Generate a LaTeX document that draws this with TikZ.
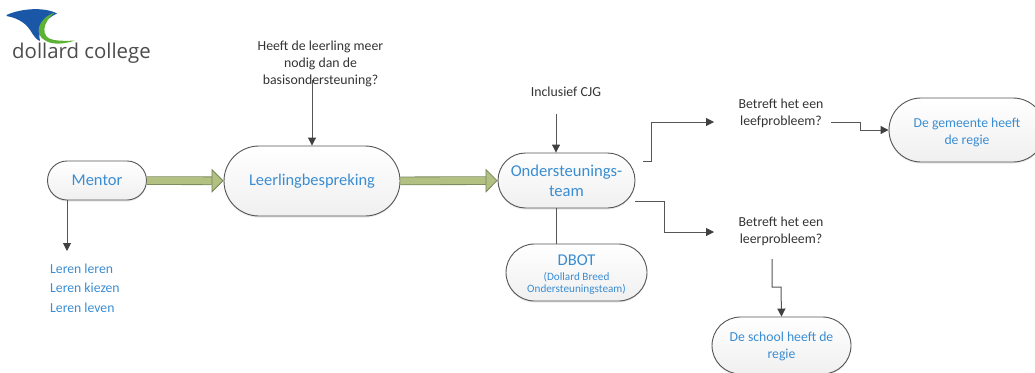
\documentclass[tikz,border=0pt]{standalone}
\usepackage{fontspec}
\setmainfont{Carlito}
\usetikzlibrary{arrows.meta,shapes.misc,shadows}
\definecolor{blauw}{HTML}{3A8DD2}
\definecolor{tekst}{HTML}{333333}
\definecolor{lijn}{HTML}{555555}
\definecolor{groen}{HTML}{B2C182}
\definecolor{randgroen}{HTML}{76855A}
\definecolor{logoblauw}{HTML}{1A57A6}
\definecolor{logogroen}{HTML}{5DB135}
\tikzset{
    pil/.style={rounded rectangle, draw=lijn, line width=.9pt, top color=white, bottom color=black!6,
        drop shadow={shadow xshift=0pt, shadow yshift=-1.5pt, opacity=.18}, align=center, text=blauw, inner sep=0pt},
    vraag/.style={text=tekst, align=center, font=\fontsize{13.8}{17}\selectfont, inner sep=0pt},
    flow/.style={draw=lijn, line width=1pt, -{Triangle[length=8pt,width=8pt,color=black!75]}},
    lijntje/.style={draw=lijn, line width=1pt},
    dik/.style={draw=randgroen, double=groen, double distance=7pt, line width=.8pt,
        -{Triangle[length=12pt,width=24pt,fill=groen]}},
}
\begin{document}
\begin{tikzpicture}[x=1pt,y=-1pt]
    \useasboundingbox (0,0) rectangle (1035,372);

    %% logo
    \fill[logoblauw] (6.5,15) .. controls (22,8) and (45,7) .. (57,13.5)
        .. controls (45,19) and (37,30) .. (40,41)
        .. controls (33,38) and (32,31) .. (27,26) .. controls (21,20) and (13,17) .. (6.5,16) -- cycle;
    \fill[logogroen] (55,12.5) .. controls (42,22) and (40,38) .. (54,40)
        .. controls (60,41) and (68,41) .. (75,40.5) .. controls (65,44) and (53,45) .. (46,41)
        .. controls (33,35) and (38,18) .. (55,12.5) -- cycle;
    \node[text=black!70, inner sep=0pt] (logo) at (81.5,53) {\fontspec{Open Sans}\fontsize{20.4}{22}\selectfont dollard college};

    %% nodes
    \node[pil, minimum width=99pt, minimum height=39pt, font=\fontsize{16.5}{17}\selectfont] (mentor) at (97,180.5) {Mentor};
    \node[pil, minimum width=176pt, minimum height=70pt, font=\fontsize{16.4}{17}\selectfont] (leerling) at (312,181) {Leerlingbespreking};
    \node[pil, minimum width=137pt, minimum height=55pt, font=\fontsize{16.6}{20}\selectfont] (onder) at (566.5,180.5) {Ondersteunings-\\team};
    \node[pil, minimum width=141pt, minimum height=57pt] (dbot) at (576.5,272.5) {\rule{0pt}{14pt}\fontsize{16.5}{16}\selectfont DBOT\\[3pt]\fontsize{11.2}{14}\selectfont (Dollard Breed\\\fontsize{11.2}{14}\selectfont Ondersteuningsteam)};
    \node[pil, minimum width=156pt, minimum height=64pt, font=\fontsize{13.7}{17}\selectfont] (gemeente) at (967,130) {\rule{0pt}{15pt}De gemeente heeft\\de regie};
    \node[pil, minimum width=139pt, minimum height=57pt, font=\fontsize{13.7}{17}\selectfont] (school) at (781.5,345.5) {\rule{0pt}{11pt}De school heeft de\\regie};

    %% tekst
    \node[vraag] (meer) at (320.5,64) {Heeft de leerling meer\\nodig dan de\\basisondersteuning?};
    \node[vraag] (cjg) at (566,92) {Inclusief CJG};
    \node[vraag] (leef) at (781,113) {Betreft het een\\leefprobleem?};
    \node[vraag] (leer) at (781,231) {Betreft het een\\leerprobleem?};
    \node[anchor=north west, text=blauw, align=left, inner sep=0pt, font=\fontsize{13.7}{19.6}\selectfont] (leren) at (50,263.5) {Leren leren\\Leren kiezen\\Leren leven};

    %% vrije uiteinden
    \coordinate (meerend) at (312,80);
    \coordinate (cjgend) at (556,114);
    \coordinate (mentorend) at (67,251);
    \coordinate (leefstart) at (643,161);
    \coordinate (leefend) at (714,122);
    \coordinate (leerstart) at (635,201);
    \coordinate (leerend) at (714,232);
    \coordinate (leefuit) at (831,122);
    \coordinate (leeruit) at (772,259);

    %% dikke pijlen
    \draw[dik] (mentor) -- (leerling);
    \draw[dik] (leerling) -- (onder);

    %% lijnen
    \draw[flow] (meerend) -- (leerling.north);
    \draw[flow] (cjgend) -- (onder.north -| cjgend);
    \draw[flow] (mentor.south -| mentorend) -- (mentorend);
    \draw[lijntje] (onder.south -| cjgend) -- (dbot.north -| cjgend);
    \draw[flow] (leefstart) -| (651,122) -- (leefend);
    \draw[flow] (leerstart) -| (664,232) -- (leerend);
    \draw[flow] (leefuit) -| (860,130) -- (gemeente.west);
    \draw[flow] (leeruit) |- (781,287) -- (school.north);
\end{tikzpicture}
\end{document}
